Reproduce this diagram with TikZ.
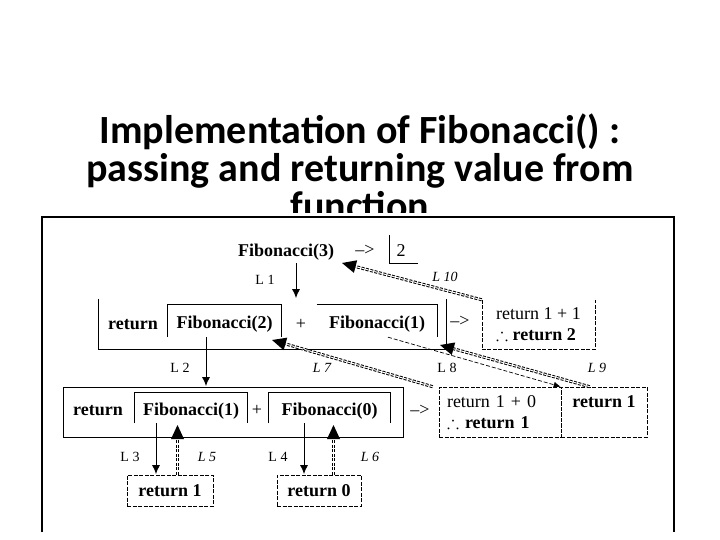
\documentclass[tikz,border=0pt]{standalone}
\usepackage{fontspec}
\usepackage{amssymb}
\usetikzlibrary{arrows.meta,calc}
\newfontfamily\titlefont{Carlito}
\newfontfamily\boxfont{Liberation Serif}

\tikzset{
  dbox/.style={draw, dash pattern=on 4pt off 1.5pt, line width=0.6pt},
  ibox/.style={inner ysep=0pt, text height=18pt, text depth=4pt},
  callarr/.style={-{Latex[length=9pt,width=8pt]}, line width=0.8pt},
  retline/.style={double, double distance=1pt, line width=1pt, dash pattern=on 3pt off 1.5pt, shorten >=12pt},
  thinarr/.style={dash pattern=on 4pt off 2pt, line width=0.7pt, -{Latex[length=7pt,width=6pt]}},
  lab/.style={font=\boxfont\fontsize{14}{16}\selectfont},
  ilab/.style={font=\boxfont\itshape\fontsize{14}{16}\selectfont},
}

\begin{document}
\begin{tikzpicture}[x=1pt,y=-1pt, font=\boxfont\bfseries\fontsize{18}{21}\selectfont]
  \useasboundingbox (0,0) rectangle (720,540);
  % slide title
  \node[font=\titlefont\bfseries\fontsize{40}{44}\selectfont, anchor=base] (t1) at (360,144) {Implementation of Fibonacci() :};
  \node[font=\titlefont\bfseries\fontsize{40}{44}\selectfont, anchor=base] (t2) at (360,182) {passing and returning value from};
  \node[font=\titlefont\bfseries\fontsize{40}{44}\selectfont, anchor=base] (t3) at (360,220) {function};
  \fill[white] (30,213) rectangle (690,540);
  \draw[line width=1.3pt] (42,532) |- (674,217) -- (674,532);

  % top call
  \node[anchor=base] (fib3) at (286,256) {Fibonacci(3)};
  \node[anchor=base] (a0) at (365,255) {\mdseries –>};
  \node[anchor=base] (res) at (401,256) {\mdseries 2};
  \draw[line width=0.6pt] (389,235) |- (418,263);

  % first level
  \node[minimum width=347pt, minimum height=50pt] (row1) at (272.5,324) {};
  \draw[line width=0.8pt] (row1.north west) |- (row1.south east) -- (row1.north east);
  \node[anchor=base] (ret1) at (133,329) {return};
  \node[ibox, minimum width=113pt, minimum height=32pt] (f2) at (224.5,321) {Fibonacci(2)};
  \draw[line width=0.8pt] (f2.south west) |- (f2.north east) -- (f2.south east);
  \node[anchor=base] (p1) at (301,329) {\mdseries +};
  \node[ibox, minimum width=120pt, minimum height=32pt] (f1) at (377,321) {Fibonacci(1)};
  \draw[line width=0.8pt] (f1.north west) -| (f1.south east);
  \node (a1) at (460,321) {\mdseries –>};
  \node[minimum width=113pt, minimum height=49pt, align=left] (r2) at (538.5,324.5) {\mdseries return 1 + 1\\ \mdseries $\therefore$ \textbf{return 2}};
  \draw[dbox] (r2.north west) |- (r2.south east) -- (r2.north east);

  % second level
  \node[draw, line width=0.8pt, minimum width=340pt, minimum height=50pt] (row2) at (233,412) {};
  \node[anchor=base] (ret2) at (98,415) {return};
  \node[ibox, minimum width=112pt, minimum height=30pt] (g1) at (191,408) {Fibonacci(1)};
  \draw[line width=0.8pt] (g1.south west) |- (g1.north east) -- (g1.south east);
  \node[anchor=base] (p2) at (257,415) {\mdseries +};
  \node[ibox, minimum width=121pt, minimum height=30pt] (g0) at (329.5,408) {Fibonacci(0)};
  \draw[line width=0.8pt] (g0.south west) |- (g0.north east) -- (g0.south east);
  \node (a2) at (420,410) {\mdseries –>};
  \node[dbox, minimum width=122pt, minimum height=50pt, text width=106pt, inner xsep=8pt, align=left] (r10) at (500,412) {\mdseries return 1 + 0\\ \mdseries $\therefore$ \textbf{return 1}};
  \node[dbox, minimum width=86pt, minimum height=50pt, align=center] (r1b) at (604,412) {return 1\\ \phantom{return 1}};

  % base cases
  \node[dbox, minimum width=86pt, minimum height=31pt] (b1) at (170,490.5) {return 1};
  \node[dbox, minimum width=84pt, minimum height=31pt] (b0) at (319,490.5) {return 0};

  % arrow ends
  \coordinate (e1) at (296,298);
  \coordinate (e2) at (206,386);
  \coordinate (e3) at (156,474);
  \coordinate (e4) at (304,474);
  \coordinate (e5) at (177.5,425);
  \coordinate (e6) at (333.5,425);
  \coordinate (e7) at (272,340);
  \coordinate (e9) at (440,345);
  \coordinate (e10) at (342,263);
  \coordinate (s5) at (b1.north -| e5);
  \coordinate (s6) at (b0.north -| e6);
  \coordinate (s7) at ([xshift=-6pt]r10.north west);
  \coordinate (s9) at ([xshift=29pt]r1b.north west);
  \coordinate (s10) at (r2.north west);

  % calls
  \draw[callarr] (fib3.south -| e1) -- (e1);
  \draw[callarr] (f2.south -| e2) -- (e2);
  \draw[callarr] (g1.south -| e3) -- (e3);
  \draw[callarr] (g0.south -| e4) -- (e4);
  \draw[thinarr] ([xshift=11pt]f1.south) -- (r1b.north west);

  % returns
  \foreach \s/\e in {s5/e5, s6/e6, s7/e7, s9/e9, s10/e10}{
    \draw[retline] (\s) -- (\e);
    \fill (\e) -- ($(\e)!14pt!(\s)!6.5pt!90:(\e)$) -- ($(\e)!14pt!(\s)!6.5pt!-90:(\e)$) -- cycle;
  }

  % labels
  \node[lab] (l1) at (265,280) {L 1};
  \node[lab] (l2) at (180,368) {L 2};
  \node[lab] (l3) at (130,457) {L 3};
  \node[lab] (l4) at (278,457) {L 4};
  \node[ilab] (l5) at (207,457) {L 5};
  \node[ilab] (l6) at (370,457) {L 6};
  \node[ilab] (l7) at (322,368) {L 7};
  \node[lab] (l8) at (447,368) {L 8};
  \node[ilab] (l9) at (597,368) {L 9};
  \node[ilab] (l10) at (445,277) {L 10};
\end{tikzpicture}
\end{document}
